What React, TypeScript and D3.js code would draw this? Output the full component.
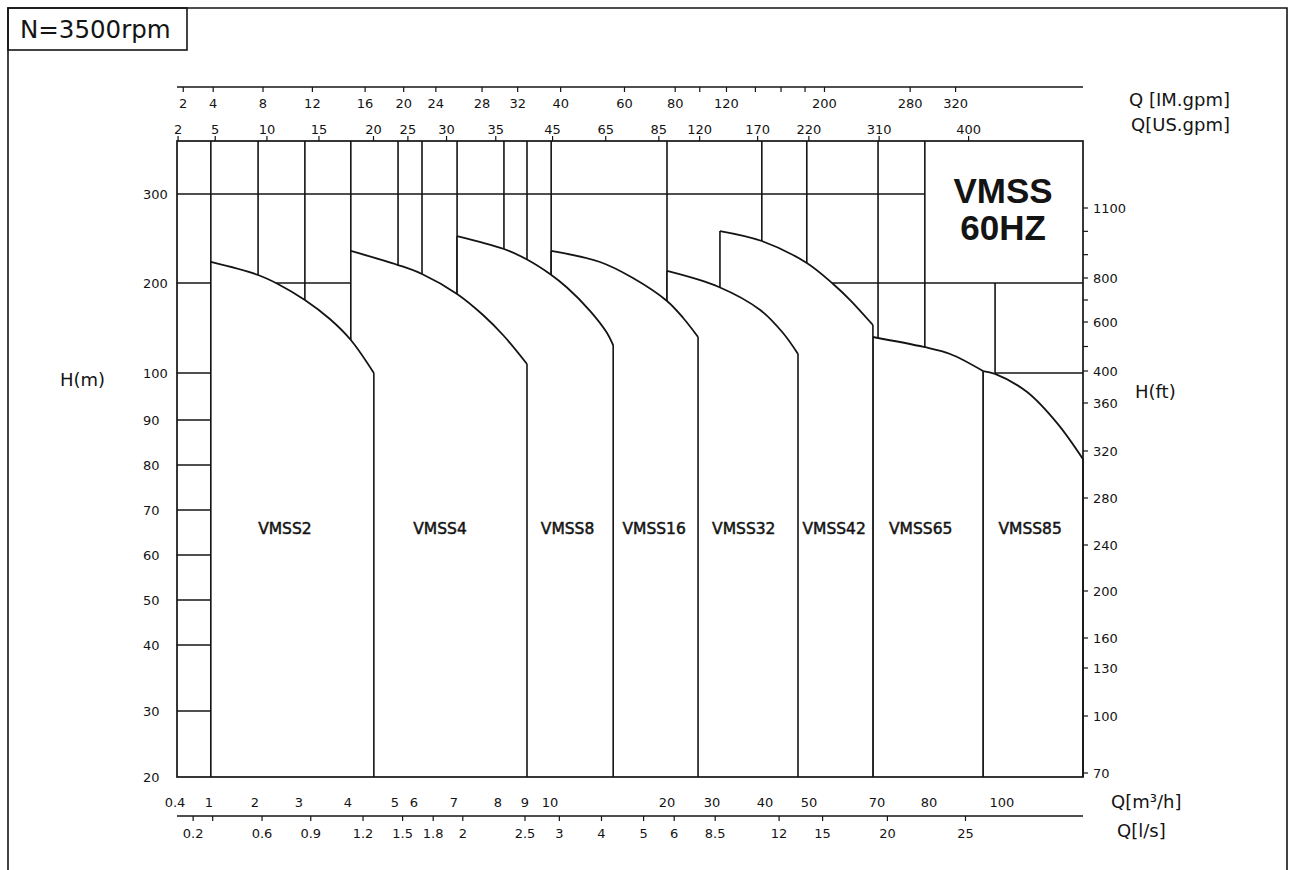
import React from "react";
import * as d3 from "d3";

// ---------------- DATA ----------------
// bottom flow axis Q [m3/h] tick values
const qTicksM3h = [0.4, 1, 2, 3, 4, 5, 6, 7, 8, 9, 10, 20, 30, 40, 50, 70, 80, 100];
// secondary flow axes (converted to m3/h for placement)
const qTicksLs = [0.2, 0.3, 0.6, 0.9, 1.2, 1.5, 1.8, 2, 2.5, 3, 4, 5, 6, 8.5, 12, 15, 20, 25];
const qLsUnlabeled = [0.3];
const qTicksIm = [2, 4, 8, 12, 16, 20, 24, 28, 32, 40, 60, 80, 100, 120, 140, 160, 180, 200, 280, 320];
const qImUnlabeled = [100, 140, 160, 180];
const qTicksUs = [2, 5, 10, 15, 20, 25, 30, 35, 45, 65, 85, 120, 170, 220, 310, 400];
// head axes
const hTicksM = [20, 30, 40, 50, 60, 70, 80, 90, 100, 200, 300];
const hTicksFt = [70, 100, 130, 160, 200, 240, 280, 320, 360, 400, 600, 800, 1100];
const hMinorFt = [500, 700, 900, 1000];

// unit conversion factors to m3/h
const IM_GPM = 0.272765;
const US_GPM = 0.227125;
const L_S = 3.6;

// pump models and their selection-field curves (Q m3/h, H m)
const models = ["VMSS2", "VMSS4", "VMSS8", "VMSS16", "VMSS32", "VMSS42", "VMSS65", "VMSS85"];
const qVMSS2 = [1.04, 2.07, 2.52, 3.12, 3.63, 4.06, 4.55];
const hVMSS2 = [223.6, 209.0, 198.9, 181.1, 160.0, 136.7, 100.0];
const qVMSS4 = [4.06, 5.16, 6.2, 7.07, 7.66, 8.22, 9.08];
const hVMSS4 = [236.0, 220.2, 210.1, 187.8, 164.4, 141.1, 110.0];
const qVMSS8 = [7.07, 8.22, 9.08, 10.0, 11.45, 13.4, 14.85, 15.4];
const hVMSS8 = [252.8, 238.2, 226.4, 210.1, 195.0, 169.4, 145.0, 131.1];
const qVMSS16 = [10.1, 14.27, 17.09, 20, 23.6, 26.9];
const hVMSS16 = [236.0, 223.6, 205.6, 180.0, 161.1, 140.0];
const qVMSS32 = [20, 31.3, 39.1, 44.1, 47.5];
const hVMSS32 = [213.5, 195.6, 170.0, 144.4, 121.1];
const qVMSS42 = [31.5, 39.4, 49.5, 57.1, 62.1, 68.8];
const hVMSS42 = [258.4, 247.2, 222.5, 198.9, 181.1, 153.3];
const qVMSS65 = [68.8, 79.0, 85.8, 94.8];
const hVMSS65 = [140.0, 128.9, 121.1, 102.2];
const qVMSS85 = [94.8, 98.1, 106.8, 115.1, 122.2];
const hVMSS85 = [102.2, 99.8, 96.0, 89.3, 81.3];
const curveQ = [qVMSS2, qVMSS4, qVMSS8, qVMSS16, qVMSS32, qVMSS42, qVMSS65, qVMSS85];
const curveH = [hVMSS2, hVMSS4, hVMSS8, hVMSS16, hVMSS32, hVMSS42, hVMSS65, hVMSS85];
const labelQ = [2.68, 6.65, 11.5, 18.9, 36.0, 57.4, 78.4, 107.7];
const labelH = 66;
const hBase = 20;

// grid: verticals from top down to the curves (Q m3/h)
const gridQ = [1.04, 2.07, 3.12, 4.06, 5.16, 6.2, 7.07, 8.22, 9.08, 10.1, 20, 39.4, 49.5, 70.2, 79.2];
const boxQ = 79.2;
const leftColQ = 1.04;
const leftColH = [30, 40, 50, 60, 70, 80, 90, 100];
const h200LeftEndQ = 4.06;
const h200RightStartQ = 56.8;
const h100StartQ = 98.1;

// ---------------- LAYOUT (scale ranges) ----------------
const W = 1293;
const HGT = 870;
const plot = { left: 177, right: 1083, top: 141, bottom: 777 };
const xRange = [175, 209, 255, 299, 348, 395, 414, 454, 498, 525, 550, 667, 712, 765, 809, 877, 929, 1002];
const yRange = [777, 711, 645, 600, 555, 510, 465, 420, 373, 283, 194];
const yFtRange = [773, 716, 668, 638, 591, 545, 498, 451, 403, 371, 322, 278, 208];
const imLineY = 87;
const lsLineY = 816;

const FONT = "'DejaVu Sans', sans-serif";
const INK = "#141414";

export default function App() {
  const x = d3.scaleLinear().domain(qTicksM3h).range(xRange);
  const y = d3.scaleLinear().domain(hTicksM).range(yRange);
  const yFt = d3.scaleLinear().domain(hTicksFt).range(yFtRange);

  const curve = d3.curveCatmullRom.alpha(0.5);
  const line = d3
    .line<[number, number]>()
    .x((d) => x(d[0]))
    .y((d) => y(d[1]))
    .curve(curve);
  const area = d3
    .area<[number, number]>()
    .x((d) => x(d[0]))
    .y0(y(hBase))
    .y1((d) => y(d[1]))
    .curve(curve);

  const regions = models.map((name, i) => {
    const pts: [number, number][] = curveQ[i].map((q, k) => [q, curveH[i][k]]);
    return { name, pts };
  });

  const sw = 1.6;

  return (
    <svg
      width={W}
      height={HGT}
      style={{ position: "absolute", left: 0, top: 0, background: "#fff" }}
      fontFamily={FONT}
    >
      <rect x={0} y={0} width={W} height={HGT} fill="#fff" />
      {/* outer frame */}
      <path d={`M8,${HGT} L8,8 L1287,8 L1287,${HGT}`} fill="none" stroke={INK} strokeWidth={1.6} />
      {/* title box */}
      <rect x={8} y={8} width={179} height={42} fill="none" stroke={INK} strokeWidth={1.6} />
      <text x={20} y={38} fontSize={24.5} fill={INK}>
        N=3500rpm
      </text>

      {/* grid lines */}
      <g stroke={INK} strokeWidth={sw} fill="none">
        {gridQ.map((q) => (
          <line key={`gv${q}`} x1={x(q)} x2={x(q)} y1={plot.top} y2={plot.bottom} />
        ))}
        <line x1={plot.left} x2={x(boxQ)} y1={y(300)} y2={y(300)} />
        <line x1={plot.left} x2={x(h200LeftEndQ)} y1={y(200)} y2={y(200)} />
        <line x1={x(h200RightStartQ)} x2={plot.right} y1={y(200)} y2={y(200)} />
        <line x1={x(h100StartQ)} x2={plot.right} y1={y(100)} y2={y(100)} />
        <line x1={x(h100StartQ)} x2={x(h100StartQ)} y1={y(200)} y2={y(100)} />
        {leftColH.map((h) => (
          <line key={`lc${h}`} x1={plot.left} x2={x(leftColQ)} y1={y(h)} y2={y(h)} />
        ))}
      </g>

      {/* selection fields, drawn last-to-first so earlier fields overlap later ones */}
      {regions
        .slice()
        .reverse()
        .map((r) => {
          const p0 = r.pts[0];
          const pn = r.pts[r.pts.length - 1];
          return (
            <g key={r.name}>
              <path d={area(r.pts) || ""} fill="#fff" stroke="none" />
              <path d={line(r.pts) || ""} fill="none" stroke={INK} strokeWidth={1.8} />
              <line x1={x(p0[0])} x2={x(p0[0])} y1={y(p0[1])} y2={y(hBase)} stroke={INK} strokeWidth={sw} />
              <line x1={x(pn[0])} x2={x(pn[0])} y1={y(pn[1])} y2={y(hBase)} stroke={INK} strokeWidth={sw} />
            </g>
          );
        })}

      {/* plot frame */}
      <rect
        x={plot.left}
        y={plot.top}
        width={plot.right - plot.left}
        height={plot.bottom - plot.top}
        fill="none"
        stroke={INK}
        strokeWidth={1.7}
      />

      {/* model labels */}
      {models.map((m, i) => (
        <text
          key={`ml${m}`}
          x={x(labelQ[i])}
          y={y(labelH) + 6}
          textAnchor="middle"
          fontSize={15.5}
          fill={INK}
          stroke={INK}
          strokeWidth={0.5}
        >
          {m}
        </text>
      ))}

      {/* VMSS 60HZ */}
      <g fontFamily="'Liberation Sans', Arial, sans-serif" fontWeight="bold" fontSize={35} fill={INK} textAnchor="middle">
        <text x={1003} y={203}>VMSS</text>
        <text x={1003} y={240}>60HZ</text>
      </g>

      {/* top IM.gpm axis */}
      <line x1={plot.left} x2={plot.right} y1={imLineY} y2={imLineY} stroke={INK} strokeWidth={1.6} />
      {qTicksIm.map((v) => (
        <g key={`im${v}`}>
          <line x1={x(v * IM_GPM)} x2={x(v * IM_GPM)} y1={imLineY} y2={imLineY + 5} stroke={INK} strokeWidth={1.2} />
          {qImUnlabeled.indexOf(v) < 0 && (
            <text x={x(v * IM_GPM)} y={imLineY + 21} textAnchor="middle" fontSize={13} fill={INK}>
              {v}
            </text>
          )}
        </g>
      ))}
      {/* US.gpm axis (on plot top) */}
      {qTicksUs.map((v) => (
        <g key={`us${v}`}>
          <line x1={x(v * US_GPM)} x2={x(v * US_GPM)} y1={plot.top - 5} y2={plot.top} stroke={INK} strokeWidth={1.2} />
          <text x={x(v * US_GPM)} y={plot.top - 7} textAnchor="middle" fontSize={13} fill={INK}>
            {v}
          </text>
        </g>
      ))}

      {/* bottom m3/h labels */}
      {qTicksM3h.map((v) => (
        <text key={`m3${v}`} x={x(v)} y={807} textAnchor="middle" fontSize={13} fill={INK}>
          {v}
        </text>
      ))}
      {/* l/s axis */}
      <line x1={plot.left} x2={plot.right} y1={lsLineY} y2={lsLineY} stroke={INK} strokeWidth={1.6} />
      {qTicksLs.map((v) => (
        <g key={`ls${v}`}>
          <line x1={x(v * L_S)} x2={x(v * L_S)} y1={lsLineY} y2={lsLineY + 5} stroke={INK} strokeWidth={1.2} />
          {qLsUnlabeled.indexOf(v) < 0 && (
            <text x={x(v * L_S)} y={lsLineY + 22} textAnchor="middle" fontSize={13} fill={INK}>
              {v}
            </text>
          )}
        </g>
      ))}

      {/* left H(m) labels */}
      {hTicksM.map((v) => (
        <text key={`hm${v}`} x={143} y={y(v) + 5} fontSize={13} fill={INK}>
          {v}
        </text>
      ))}
      {/* right H(ft) axis */}
      {hTicksFt.concat(hMinorFt).map((v) => (
        <line key={`ftt${v}`} x1={plot.right} x2={plot.right + 5} y1={yFt(v)} y2={yFt(v)} stroke={INK} strokeWidth={1.2} />
      ))}
      {hTicksFt.map((v) => (
        <text key={`ft${v}`} x={plot.right + 10} y={yFt(v) + 5} fontSize={13} fill={INK}>
          {v}
        </text>
      ))}

      {/* axis titles */}
      <g fontSize={18} fill={INK}>
        <text x={60} y={386}>H(m)</text>
        <text x={1135} y={398}>H(ft)</text>
        <text x={1230} y={106} textAnchor="end">Q [IM.gpm]</text>
        <text x={1230} y={131} textAnchor="end">Q[US.gpm]</text>
        <text x={1111} y={808}>Q[m³/h]</text>
        <text x={1117} y={837}>Q[l/s]</text>
      </g>
    </svg>
  );
}
